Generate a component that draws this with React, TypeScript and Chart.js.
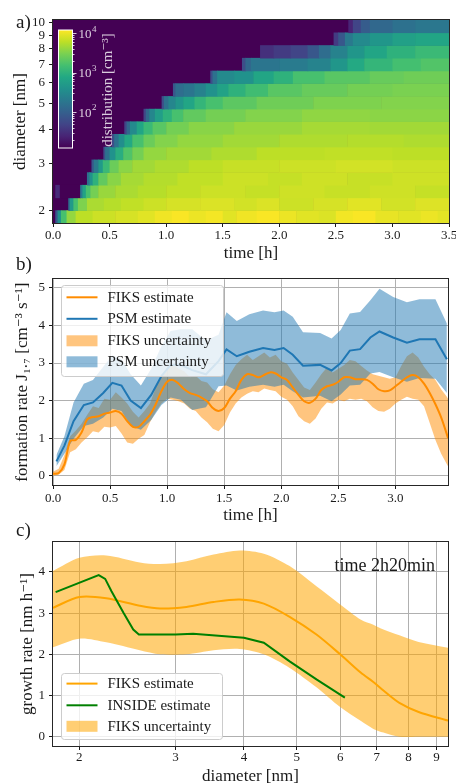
import React, { useEffect, useRef } from 'react';
import { Chart, registerables } from 'chart.js';

Chart.register(...registerables);

const FONT = "'Liberation Serif', 'DejaVu Serif', 'Times New Roman', serif";
const INK = '#1a1a1a';
Chart.defaults.font.family = FONT;
Chart.defaults.color = INK;

// ---------------- Panel a: size distribution heatmap ----------------
const TIME_MAX_A = 3.5;
const TIME_TICKS_A = [0, 0.5, 1, 1.5, 2, 2.5, 3, 3.5];
const DIAM_TICKS_A = [2, 3, 4, 5, 6, 7, 8, 9, 10];
const DIAM_EDGES = [1.80, 2.007, 2.238, 2.495, 2.78, 3.10, 3.46, 3.86, 4.30, 4.79, 5.34, 5.96, 6.64, 7.41, 8.26, 9.21, 10.27];
// each row: [time where the value starts (h), log10 distribution]
const HEAT_ROWS: number[][][] = [
  [[0.02, 1.9], [0.04, 2.6], [0.07, 3.2], [0.12, 3.6], [0.2, 3.78], [0.35, 3.85], [0.55, 3.9], [0.75, 3.95], [0.9, 4.02], [1.05, 4.06], [1.2, 4.0], [1.35, 4.04], [1.5, 3.95], [1.62, 4.02], [1.8, 4.06], [2.0, 4.0], [2.15, 3.95], [2.35, 3.92], [2.5, 4.03], [2.65, 4.06], [2.85, 3.98], [3.05, 3.95], [3.25, 4.0], [3.4, 3.96]],
  [[0.135, 2.2], [0.15, 2.7], [0.18, 3.2], [0.22, 3.5], [0.3, 3.7], [0.45, 3.75], [0.6, 3.8], [0.8, 3.85], [1.0, 3.9], [1.3, 3.92], [1.6, 3.88], [1.8, 3.92], [2.0, 3.85], [2.3, 3.9], [2.6, 3.95], [2.9, 3.88], [3.2, 3.93]],
  [[0.02, 1.45], [0.06, 1.0], [0.24, 2.3], [0.26, 2.8], [0.29, 3.2], [0.33, 3.45], [0.4, 3.62], [0.55, 3.7], [0.75, 3.75], [1.0, 3.8], [1.3, 3.85], [1.7, 3.82], [2.0, 3.86], [2.4, 3.83], [2.8, 3.86], [3.2, 3.82]],
  [[0.30, 2.2], [0.32, 2.6], [0.35, 3.0], [0.4, 3.35], [0.48, 3.55], [0.6, 3.68], [0.8, 3.74], [1.1, 3.8], [1.5, 3.85], [1.9, 3.82], [2.2, 3.86], [2.6, 3.83], [3.0, 3.86]],
  [[0.34, 1.9], [0.36, 2.3], [0.40, 2.7], [0.44, 3.1], [0.5, 3.4], [0.58, 3.56], [0.7, 3.66], [0.9, 3.72], [1.2, 3.78], [1.5, 3.83], [2.0, 3.85], [2.5, 3.88], [3.0, 3.85]],
  [[0.445, 1.8], [0.46, 2.2], [0.5, 2.6], [0.55, 2.95], [0.62, 3.25], [0.7, 3.45], [0.8, 3.6], [1.0, 3.66], [1.4, 3.72], [1.8, 3.78], [2.4, 3.8], [3.0, 3.78]],
  [[0.52, 1.8], [0.54, 2.2], [0.58, 2.55], [0.63, 2.9], [0.7, 3.2], [0.8, 3.4], [0.9, 3.52], [1.1, 3.6], [1.5, 3.66], [2.0, 3.72], [2.6, 3.74], [3.1, 3.72]],
  [[0.63, 1.7], [0.65, 2.1], [0.68, 2.5], [0.74, 2.85], [0.8, 3.1], [0.88, 3.3], [1.0, 3.45], [1.2, 3.55], [1.6, 3.62], [2.2, 3.68], [2.8, 3.66]],
  [[0.80, 1.7], [0.82, 2.1], [0.85, 2.45], [0.9, 2.75], [0.97, 3.0], [1.05, 3.2], [1.15, 3.35], [1.35, 3.45], [1.7, 3.52], [2.2, 3.58], [2.8, 3.56]],
  [[0.96, 1.8], [0.98, 2.2], [1.02, 2.45], [1.08, 2.65], [1.15, 2.85], [1.25, 3.05], [1.35, 3.2], [1.5, 3.32], [1.8, 3.42], [2.3, 3.5], [2.9, 3.52]],
  [[1.06, 1.9], [1.08, 2.15], [1.15, 2.25], [1.25, 2.4], [1.35, 2.6], [1.45, 2.8], [1.55, 3.0], [1.7, 3.15], [1.9, 3.3], [2.2, 3.38], [2.6, 3.45], [3.0, 3.48]],
  [[1.39, 1.8], [1.41, 2.2], [1.45, 2.5], [1.6, 2.6], [1.77, 2.85], [1.95, 3.0], [2.12, 3.2], [2.4, 3.3], [2.8, 3.38], [3.1, 3.42]],
  [[1.67, 1.8], [1.7, 2.1], [1.75, 2.25], [2.0, 2.32], [2.25, 2.42], [2.45, 2.65], [2.6, 2.9], [2.75, 3.05], [3.0, 3.18], [3.25, 3.26]],
  [[1.83, 1.5], [1.95, 1.6], [2.1, 1.7], [2.25, 1.9], [2.35, 2.15], [2.45, 2.4], [2.6, 2.65], [2.75, 2.85], [2.95, 3.0], [3.2, 3.1]],
  [[2.48, 1.6], [2.52, 1.9], [2.58, 2.3], [2.65, 2.5], [2.8, 2.65], [3.0, 2.78], [3.2, 2.85]],
  [[2.61, 1.4], [2.65, 1.7], [2.72, 1.95], [2.8, 2.1], [3.0, 2.2], [3.2, 2.27]],
];
const CBAR_MIN = 1.09;
const CBAR_MAX = 4.08;
const CBAR_DECADES = [1, 2, 3, 4];
const CBAR_LABELS = [2, 3, 4];

// ---------------- Panel b: formation rate ----------------
const TIME_TICKS_B = [0, 0.5, 1, 1.5, 2, 2.5, 3];
const RATE_TICKS_B = [0, 1, 2, 3, 4, 5];
const FIKS_T = [0.00, 0.05, 0.10, 0.15, 0.20, 0.25, 0.30, 0.35, 0.40, 0.45, 0.50, 0.55, 0.60, 0.65, 0.70, 0.75, 0.80, 0.85, 0.90, 0.95, 1.00, 1.05, 1.10, 1.15, 1.20, 1.25, 1.30, 1.35, 1.40, 1.45, 1.50, 1.55, 1.60, 1.65, 1.70, 1.75, 1.80, 1.85, 1.90, 1.95, 2.00, 2.05, 2.10, 2.15, 2.20, 2.25, 2.30, 2.35, 2.40, 2.45, 2.50, 2.55, 2.60, 2.65, 2.70, 2.75, 2.80, 2.85, 2.90, 2.95, 3.00, 3.05, 3.10, 3.15, 3.20, 3.25, 3.30, 3.35, 3.40, 3.45, 3.46];
const FIKS_EST = [0.05, 0.07, 0.30, 0.92, 0.95, 1.15, 1.50, 1.56, 1.58, 1.65, 1.68, 1.72, 1.65, 1.45, 1.30, 1.30, 1.45, 1.62, 1.90, 2.25, 2.50, 2.55, 2.45, 2.30, 2.20, 2.15, 2.08, 1.98, 1.80, 1.72, 1.80, 2.05, 2.25, 2.55, 2.70, 2.68, 2.62, 2.68, 2.75, 2.72, 2.62, 2.55, 2.35, 2.15, 1.98, 1.94, 2.05, 2.28, 2.38, 2.42, 2.50, 2.62, 2.62, 2.57, 2.57, 2.55, 2.45, 2.30, 2.25, 2.27, 2.38, 2.50, 2.62, 2.68, 2.62, 2.45, 2.20, 1.90, 1.55, 1.10, 1.00];
const FIKS_UP = [0.10, 0.18, 0.55, 1.05, 1.20, 1.38, 1.62, 1.85, 1.80, 2.05, 2.02, 2.22, 2.08, 1.92, 1.70, 1.55, 1.72, 1.92, 2.35, 2.62, 2.80, 2.98, 2.85, 2.78, 2.62, 2.66, 2.52, 2.48, 2.30, 2.22, 2.40, 2.70, 2.95, 3.10, 3.22, 3.08, 3.18, 3.28, 3.15, 3.22, 3.05, 2.98, 2.75, 2.55, 2.35, 2.28, 2.48, 2.70, 2.88, 2.75, 2.85, 2.95, 3.08, 3.05, 2.92, 2.80, 2.70, 2.66, 2.62, 2.58, 2.62, 2.92, 3.18, 3.28, 3.15, 2.90, 2.70, 2.55, 2.30, 2.10, 2.05];
const FIKS_LO = [0.00, 0.02, 0.15, 0.62, 0.70, 0.88, 1.02, 1.18, 1.15, 1.30, 1.28, 1.32, 1.12, 0.88, 0.85, 0.98, 1.08, 1.42, 1.70, 1.92, 2.05, 2.02, 1.98, 1.92, 1.78, 1.72, 1.55, 1.42, 1.25, 1.18, 1.35, 1.68, 1.92, 2.08, 2.18, 2.25, 2.22, 2.32, 2.28, 2.25, 2.10, 2.02, 1.85, 1.58, 1.45, 1.38, 1.52, 1.78, 1.95, 1.92, 2.02, 1.98, 2.05, 2.02, 2.05, 1.98, 1.82, 1.72, 1.70, 1.78, 1.92, 2.02, 2.10, 2.05, 2.02, 1.85, 1.40, 0.95, 0.58, 0.30, 0.25];
const PSM_T = [0.03, 0.10, 0.18, 0.27, 0.35, 0.44, 0.52, 0.60, 0.68, 0.77, 0.86, 0.95, 1.03, 1.12, 1.22, 1.34, 1.45, 1.52, 1.61, 1.72, 1.84, 1.94, 2.02, 2.10, 2.19, 2.34, 2.44, 2.52, 2.60, 2.69, 2.78, 2.86, 2.98, 3.10, 3.21, 3.35, 3.45];
const PSM_EST = [0.38, 0.80, 1.45, 1.88, 1.95, 2.20, 2.47, 2.40, 2.00, 1.80, 2.15, 2.65, 2.95, 2.95, 2.81, 2.70, 3.05, 3.36, 3.18, 3.30, 3.40, 3.35, 3.40, 3.22, 2.93, 2.95, 2.80, 3.00, 3.33, 3.37, 3.68, 3.84, 3.68, 3.54, 3.63, 3.63, 3.10];
const PSM_UP = [0.55, 1.05, 1.95, 2.45, 2.55, 2.90, 3.20, 3.10, 2.70, 2.40, 2.85, 3.45, 3.85, 3.90, 3.90, 3.60, 3.75, 4.35, 4.12, 4.30, 4.40, 4.35, 4.40, 4.23, 3.82, 3.80, 3.65, 3.88, 4.32, 4.36, 4.67, 4.98, 4.76, 4.62, 4.70, 4.70, 4.05];
const PSM_LO = [0.25, 0.58, 0.98, 1.32, 1.38, 1.55, 1.78, 1.72, 1.32, 1.22, 1.48, 1.88, 2.08, 2.02, 1.75, 1.82, 2.38, 2.40, 2.27, 2.37, 2.42, 2.37, 2.42, 2.25, 2.08, 2.13, 1.98, 2.16, 2.40, 2.42, 2.72, 2.76, 2.62, 2.50, 2.60, 2.58, 2.20];

// ---------------- Panel c: growth rate ----------------
const DIAM_TICKS_C = [2, 3, 4, 5, 6, 7, 8, 9];
const GR_TICKS_C = [0, 1, 2, 3, 4];
const C_D = [1.79, 2.0, 2.24, 2.58, 2.81, 3.14, 3.52, 3.93, 4.35, 4.85, 5.43, 6.0, 6.55, 6.9, 7.2, 7.7, 8.35, 9.45];
const C_FIKS = [3.13, 3.39, 3.36, 3.18, 3.11, 3.15, 3.27, 3.33, 3.23, 2.91, 2.48, 2.0, 1.55, 1.33, 1.12, 0.82, 0.60, 0.39];
const C_UP = [4.02, 4.34, 4.40, 4.23, 4.19, 4.26, 4.42, 4.52, 4.44, 4.14, 3.65, 3.21, 2.84, 2.72, 2.60, 2.46, 2.30, 2.16];
const C_LO = [2.17, 2.38, 2.29, 2.10, 2.00, 2.00, 2.10, 2.13, 2.00, 1.67, 1.20, 0.72, 0.38, 0.19, 0.10, 0.0, 0.0, 0.0];
const C_INSIDE_D = [1.81, 2.17, 2.23, 2.29, 2.41, 2.51, 2.57, 3.0, 3.23, 4.0, 4.35, 4.85, 5.43, 6.12];
const C_INSIDE = [3.51, 3.92, 3.83, 3.53, 3.00, 2.60, 2.48, 2.48, 2.50, 2.40, 2.28, 1.83, 1.39, 0.95];
const C_NOTE = 'time 2h20min';

// ---------------- helpers ----------------
const VIRIDIS = ['#440154', '#482475', '#414487', '#355f8d', '#2a788e', '#21918c', '#22a884', '#44bf70', '#7ad151', '#bddf26', '#fde725'];
const VIR_RGB = VIRIDIS.map((h) => {
  const n = parseInt(h.slice(1), 16);
  return [(n >> 16) & 255, (n >> 8) & 255, n & 255];
});
function viridis(f: number) {
  const c = Math.max(0, Math.min(1, f)) * (VIR_RGB.length - 1);
  const i = Math.min(VIR_RGB.length - 2, Math.floor(c));
  const t = c - i;
  const a = VIR_RGB[i];
  const b = VIR_RGB[i + 1];
  return `rgb(${Math.round(a[0] + (b[0] - a[0]) * t)},${Math.round(a[1] + (b[1] - a[1]) * t)},${Math.round(a[2] + (b[2] - a[2]) * t)})`;
}
const frac = (v: number) => (v - CBAR_MIN) / (CBAR_MAX - CBAR_MIN);

function drawFrame(chart: any) {
  const { ctx, chartArea: ca } = chart;
  ctx.save();
  ctx.strokeStyle = '#262626';
  ctx.lineWidth = 1;
  ctx.strokeRect(Math.round(ca.left) - 0.5, Math.round(ca.top) - 0.5, Math.round(ca.right - ca.left) + 1, Math.round(ca.bottom - ca.top) + 1);
  ctx.restore();
}

function roundRectPath(ctx: CanvasRenderingContext2D, x: number, y: number, w: number, h: number, r: number) {
  ctx.beginPath();
  ctx.moveTo(x + r, y);
  ctx.arcTo(x + w, y, x + w, y + h, r);
  ctx.arcTo(x + w, y + h, x, y + h, r);
  ctx.arcTo(x, y + h, x, y, r);
  ctx.arcTo(x, y, x + w, y, r);
  ctx.closePath();
}

function drawLegend(chart: any, bx: number, by: number, bw: number, bh: number, rows: number[], indices: number[]) {
  const { ctx } = chart;
  const ds = chart.data.datasets;
  ctx.save();
  roundRectPath(ctx, Math.round(bx) + 0.5, Math.round(by) + 0.5, bw, bh, 3);
  ctx.fillStyle = 'rgba(255,255,255,0.8)';
  ctx.fill();
  ctx.strokeStyle = '#cccccc';
  ctx.lineWidth = 1;
  ctx.stroke();
  indices.forEach((idx, i) => {
    const d = ds[idx];
    const cy = by + rows[i];
    if (!d.fill) {
      ctx.strokeStyle = d.borderColor;
      ctx.lineWidth = 2;
      ctx.beginPath();
      ctx.moveTo(bx + 5.5, cy);
      ctx.lineTo(bx + 36.5, cy);
      ctx.stroke();
    } else {
      ctx.fillStyle = d.backgroundColor;
      ctx.fillRect(bx + 5.5, cy - 5.5, 31, 11);
    }
    ctx.fillStyle = INK;
    ctx.font = `15px ${FONT}`;
    ctx.textBaseline = 'middle';
    ctx.textAlign = 'left';
    ctx.fillText(d.label, bx + 46.5, cy + 0.5);
  });
  ctx.restore();
}

const tickFont = { family: FONT, size: 13 };
const titleFont = { family: FONT, size: 17 };

function xAxis(opts: any) {
  return {
    type: opts.type,
    min: opts.min,
    max: opts.max,
    afterBuildTicks: (s: any) => { s.ticks = opts.ticks.map((v: number) => ({ value: v })); },
    afterFit: (s: any) => { s.height = opts.height; s.paddingLeft = 0; s.paddingRight = 0; },
    grid: { display: true, drawOnChartArea: opts.grid, color: '#b0b0b0', lineWidth: 1, drawTicks: true, tickLength: 4, tickColor: INK, tickWidth: 1 },
    border: { display: false },
    ticks: { font: tickFont, color: INK, padding: opts.tickPad, autoSkip: false, maxRotation: 0, minRotation: 0, callback: opts.fmt },
    title: { display: true, text: opts.title, font: titleFont, color: INK, padding: { top: 0, bottom: opts.titlePad } },
  };
}
function yAxis(opts: any) {
  return {
    type: opts.type,
    min: opts.min,
    max: opts.max,
    afterBuildTicks: (s: any) => { s.ticks = opts.ticks.map((v: number) => ({ value: v })); },
    afterFit: (s: any) => { s.width = 53; s.paddingTop = 0; s.paddingBottom = 0; },
    grid: { display: true, drawOnChartArea: opts.grid, color: '#b0b0b0', lineWidth: 1, drawTicks: true, tickLength: 4, tickColor: INK, tickWidth: 1 },
    border: { display: false },
    ticks: { font: tickFont, color: INK, padding: 4, autoSkip: false, callback: (v: any) => String(v) },
    title: { display: true, text: opts.title, font: titleFont, color: INK, padding: { top: opts.titlePad, bottom: 0 } },
  };
}

const heatPlugin = {
  id: 'heatmap',
  beforeDatasetsDraw(chart: any) {
    const { ctx, chartArea: ca, scales } = chart;
    const x = scales.x;
    const y = scales.y;
    ctx.save();
    ctx.beginPath();
    ctx.rect(ca.left, ca.top, ca.right - ca.left, ca.bottom - ca.top);
    ctx.clip();
    ctx.fillStyle = viridis(0);
    ctx.fillRect(ca.left, ca.top, ca.right - ca.left, ca.bottom - ca.top);
    HEAT_ROWS.forEach((row, r) => {
      const yTop = y.getPixelForValue(DIAM_EDGES[r + 1]);
      const yBot = y.getPixelForValue(DIAM_EDGES[r]);
      row.forEach((seg, i) => {
        const t0 = seg[0];
        const t1 = i + 1 < row.length ? row[i + 1][0] : TIME_MAX_A;
        const x0 = x.getPixelForValue(t0);
        const x1 = x.getPixelForValue(t1);
        ctx.fillStyle = viridis(frac(seg[1]));
        ctx.fillRect(x0, yTop, x1 - x0 + 0.6, yBot - yTop + 0.6);
      });
    });
    ctx.restore();
  },
  afterDraw(chart: any) {
    const { ctx, chartArea: ca } = chart;
    // colorbar
    const cx = Math.round(ca.left) + 5.5;
    const cy = Math.round(ca.top) + 10;
    const cw = 14;
    const ch = 118;
    ctx.save();
    const g = ctx.createLinearGradient(0, cy + ch, 0, cy);
    VIRIDIS.forEach((c, i) => g.addColorStop(i / (VIRIDIS.length - 1), c));
    ctx.fillStyle = g;
    ctx.fillRect(cx, cy, cw, ch);
    ctx.strokeStyle = '#ffffff';
    ctx.lineWidth = 1;
    ctx.strokeRect(cx, cy, cw, ch);
    const light = 'rgba(255,255,255,0.8)';
    ctx.strokeStyle = light;
    CBAR_DECADES.forEach((k) => {
      for (let m = 1; m <= 9; m++) {
        const v = k + Math.log10(m);
        if (v < CBAR_MIN || v > CBAR_MAX) continue;
        const py = Math.round(cy + ch - frac(v) * ch) + 0.5;
        ctx.beginPath();
        ctx.moveTo(cx + cw, py);
        ctx.lineTo(cx + cw + (m === 1 ? 4 : 2), py);
        ctx.stroke();
      }
    });
    ctx.fillStyle = light;
    ctx.textBaseline = 'middle';
    ctx.textAlign = 'left';
    CBAR_LABELS.forEach((k) => {
      const py = cy + ch - frac(k) * ch;
      ctx.font = `13px ${FONT}`;
      ctx.fillText('10', cx + cw + 6, py + 1);
      const w = ctx.measureText('10').width;
      ctx.font = `9px ${FONT}`;
      ctx.fillText(String(k), cx + cw + 6 + w + 0.5, py - 4);
    });
    ctx.translate(cx + 50, cy + ch / 2 + 1);
    ctx.rotate(-Math.PI / 2);
    ctx.textAlign = 'center';
    ctx.font = `15px ${FONT}`;
    ctx.fillText('distribution [cm⁻³]', 0, 0);
    ctx.restore();
    drawFrame(chart);
  },
};

const legendB = {
  id: 'legendB',
  afterDraw(chart: any) {
    drawFrame(chart);
    const ca = chart.chartArea;
    drawLegend(chart, ca.left + 8, ca.top + 6, 162, 91, [12, 33.5, 55.5, 76.5], [0, 1, 2, 4]);
  },
};

const legendC = {
  id: 'legendC',
  afterDraw(chart: any) {
    drawFrame(chart);
    const { ctx, chartArea: ca } = chart;
    ctx.save();
    ctx.font = `18px ${FONT}`;
    ctx.fillStyle = INK;
    ctx.textAlign = 'right';
    ctx.textBaseline = 'middle';
    ctx.fillText(C_NOTE, ca.right - 13, ca.top + 24);
    ctx.restore();
    drawLegend(chart, ca.left + 8, ca.bottom - 73, 161, 66, [10.6, 32.3, 53.3], [0, 1, 2]);
  },
};

const pts = (xs: number[], ys: number[]) => xs.map((x, i) => ({ x, y: ys[i] }));

export default function App() {
  const refA = useRef<HTMLCanvasElement>(null);
  const refB = useRef<HTMLCanvasElement>(null);
  const refC = useRef<HTMLCanvasElement>(null);

  useEffect(() => {
    const common = {
      responsive: false,
      animation: false,
      events: [],
      plugins: { legend: { display: false }, tooltip: { enabled: false } },
    };

    const chartA = new Chart(refA.current as HTMLCanvasElement, {
      type: 'scatter',
      data: { datasets: [] },
      options: {
        ...common,
        layout: { padding: { left: 0, right: 7, top: 20, bottom: 0 } },
        scales: {
          x: xAxis({ type: 'linear', min: 0, max: TIME_MAX_A, ticks: TIME_TICKS_A, height: 43, grid: false, tickPad: 1, fmt: (v: any) => Number(v).toFixed(1), title: 'time [h]', titlePad: 2 }),
          y: yAxis({ type: 'logarithmic', min: 1.8, max: 10.25, ticks: DIAM_TICKS_A, grid: false, title: 'diameter [nm]', titlePad: 10 }),
        },
      } as any,
      plugins: [heatPlugin],
    } as any);

    const chartB = new Chart(refB.current as HTMLCanvasElement, {
      type: 'line',
      data: {
        datasets: [
          { label: 'FIKS estimate', data: pts(FIKS_T, FIKS_EST), borderColor: '#ff8c00', borderWidth: 2, pointRadius: 0, tension: 0.3, fill: false, order: 1 },
          { label: 'PSM estimate', data: pts(PSM_T, PSM_EST), borderColor: '#1f77b4', borderWidth: 2, pointRadius: 0, tension: 0, fill: false, order: 0 },
          { label: 'FIKS uncertainty', data: pts(FIKS_T, FIKS_UP), borderWidth: 0, pointRadius: 0, tension: 0, fill: 3, backgroundColor: 'rgba(255,140,0,0.5)', order: 4 },
          { label: 'fiks-lower', data: pts(FIKS_T, FIKS_LO), borderWidth: 0, pointRadius: 0, tension: 0, fill: false, order: 5 },
          { label: 'PSM uncertainty', data: pts(PSM_T, PSM_UP), borderWidth: 0, pointRadius: 0, tension: 0, fill: 5, backgroundColor: 'rgba(31,119,180,0.5)', order: 3 },
          { label: 'psm-lower', data: pts(PSM_T, PSM_LO), borderWidth: 0, pointRadius: 0, tension: 0, fill: false, order: 5 },
        ],
      },
      options: {
        ...common,
        layout: { padding: { left: 0, right: 8, top: 13.3, bottom: 0 } },
        scales: {
          x: xAxis({ type: 'linear', min: 0, max: 3.46, ticks: TIME_TICKS_B, height: 43, grid: true, tickPad: 2, fmt: (v: any) => Number(v).toFixed(1), title: 'time [h]', titlePad: 2 }),
          y: yAxis({ type: 'linear', min: -0.25, max: 5.23, ticks: RATE_TICKS_B, grid: true, title: 'formation rate J₁.₇ [cm⁻³ s⁻¹]', titlePad: 12 }),
        },
      } as any,
      plugins: [legendB],
    } as any);

    const chartC = new Chart(refC.current as HTMLCanvasElement, {
      type: 'line',
      data: {
        datasets: [
          { label: 'FIKS estimate', data: pts(C_D, C_FIKS), borderColor: '#ffa500', borderWidth: 2, pointRadius: 0, tension: 0.3, fill: false, order: 1 },
          { label: 'INSIDE estimate', data: pts(C_INSIDE_D, C_INSIDE), borderColor: '#008000', borderWidth: 2, pointRadius: 0, tension: 0, fill: false, order: 0 },
          { label: 'FIKS uncertainty', data: pts(C_D, C_UP), borderWidth: 0, pointRadius: 0, tension: 0.3, fill: 3, backgroundColor: 'rgba(255,165,0,0.55)', order: 3 },
          { label: 'fiks-lower', data: pts(C_D, C_LO), borderWidth: 0, pointRadius: 0, tension: 0.3, fill: false, order: 4 },
        ],
      },
      options: {
        ...common,
        layout: { padding: { left: 0, right: 8, top: 14, bottom: 0 } },
        scales: {
          x: xAxis({ type: 'logarithmic', min: 1.79, max: 9.45, ticks: DIAM_TICKS_C, height: 38, grid: true, tickPad: 0, fmt: (v: any) => String(v), title: 'diameter [nm]', titlePad: -3 }),
          y: yAxis({ type: 'linear', min: -0.225, max: 4.725, ticks: GR_TICKS_C, grid: true, title: 'growth rate [nm h⁻¹]', titlePad: 17 }),
        },
      } as any,
      plugins: [legendC],
    } as any);

    return () => {
      chartA.destroy();
      chartB.destroy();
      chartC.destroy();
    };
  }, []);

  const labelStyle = (top: number): React.CSSProperties => ({
    position: 'absolute', left: 16, top, font: `19px ${FONT}`, lineHeight: '19px', color: INK, pointerEvents: 'none',
  });

  return (
    <div style={{ position: 'fixed', left: 0, top: 0, width: 456, height: 784, background: '#ffffff', overflow: 'hidden' }}>
      <canvas ref={refA} width={456} height={266} style={{ position: 'absolute', left: 0, top: 0, width: 456, height: 266 }} />
      <canvas ref={refB} width={456} height={262} style={{ position: 'absolute', left: 0, top: 266, width: 456, height: 262 }} />
      <canvas ref={refC} width={456} height={256} style={{ position: 'absolute', left: 0, top: 528, width: 456, height: 256 }} />
      <div style={labelStyle(12)}>a)</div>
      <div style={labelStyle(254)}>b)</div>
      <div style={labelStyle(520)}>c)</div>
    </div>
  );
}
